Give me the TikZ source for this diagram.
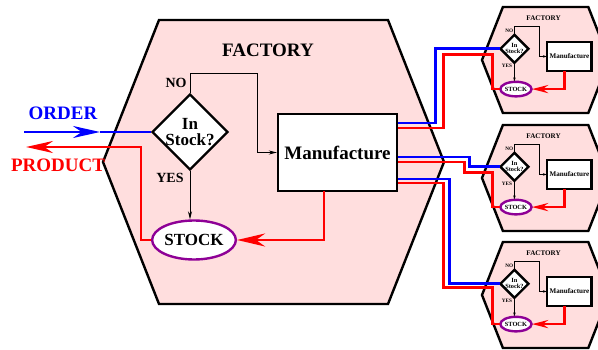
\documentclass[tikz,border=0pt]{standalone}
\usepackage{fontspec}
\setmainfont{Liberation Serif}
\usetikzlibrary{arrows.meta,shapes.geometric}
\definecolor{INK}{HTML}{000000}
\definecolor{BLUE}{HTML}{0000FF}
\definecolor{RED}{HTML}{FF0000}
\definecolor{PURP}{HTML}{8E0096}
\definecolor{PINK}{HTML}{FFDEDE}

\begin{document}
\begin{tikzpicture}[x=1pt,y=-1pt]
\tikzset{hexa/.style={draw=INK,line width=2.4pt,fill=PINK,line join=miter},
 dia/.style={diamond,draw=INK,fill=white,line width=2.4pt,minimum width=76pt,minimum height=76pt,inner sep=0pt},
 mbox/.style={rectangle,draw=INK,fill=white,line width=2.4pt,minimum width=119pt,minimum height=77pt,inner sep=0pt,font=\bfseries\fontsize{19}{19}\selectfont},
 stk/.style={ellipse,draw=PURP,fill=white,line width=2.4pt,minimum width=82pt,minimum height=39pt,inner sep=0pt,font=\bfseries\fontsize{17}{17}\selectfont},
 qtxt/.style={align=center,inner sep=0pt,font=\bfseries\fontsize{17}{16}\selectfont},
 lbl/.style={inner sep=0pt,font=\bfseries\fontsize{19}{19}\selectfont},
 sml/.style={inner sep=0pt,font=\bfseries\fontsize{14}{14}\selectfont},
 flow/.style={INK,line width=0.8pt},
 prod/.style={RED,line width=2.8pt},
 ord/.style={BLUE,line width=2.8pt},
 pics/factory/.style n args={2}{code={
  \draw[hexa] (-114.5,-142) -- (114.5,-142) -- (170.5,0) -- (114.5,142) -- (-114.5,142) -- (-170.5,0) -- cycle;
  \node[lbl] (-title) at (-5.5,-112) {FACTORY};
  \node[dia] (-dia) at (-83.5,-30) {};
  \node[qtxt] (-qtxt) at (-dia) {In\\Stock?};
  \node[mbox] (-mfg) at (64,-9.5) {Manufacture};
  \node[stk] (-stock) at (-79.5,78) {STOCK};
  \node[sml] (-no) at (-97.5,-79) {NO};
  \node[sml] (-yes) at (-103.5,16) {YES};
  \coordinate (-nobend) at (-16.5,-89);
  \coordinate (-drop) at (50.5,29);
  \draw[flow,-{Stealth[#2]}] (-dia.north) |- (-nobend) |- (-mfg.west);
  \draw[flow,-{Stealth[#2]}] (-dia.south) -- (-dia.south |- -stock.north);
  \draw[prod,-{Stealth[#1]}] (-drop) |- (-stock.east);
 }}}
\useasboundingbox (0,0) rectangle (598,350);
\clip (0,0) rectangle (598,350);
\pic (main) at (273.5,162) {factory={length=28pt,width=13pt}{length=8pt,width=4pt}};
\foreach \n/\y in {1/60,2/178,3/295}
  \pic (f\n) [scale=0.373,transform shape] at (545.6,\y) {factory={length=16pt,width=8pt}{length=4pt,width=2.5pt}};
\node[lbl,BLUE] (order) at (63,113) {ORDER};
\node[lbl,RED] (product) at (58,165) {PRODUCT};
\coordinate (ordin) at (24,132);
\coordinate (ordtip) at (100,132);
\coordinate (prodout) at (26,147);
\draw[ord,-{Stealth[length=27pt,width=12pt]}] (ordin) -- (ordtip);
\draw[ord] (ordtip) -- (main-dia.west);
\draw[prod,-{Stealth[length=27pt,width=12pt]}] (main-stock.west) -- ++(-10,0) |- (prodout);
\draw[ord] ([yshift=29.5pt]main-mfg.east) -- ++(37,0) |- (f1-dia.west);
\draw[prod] ([yshift=24.5pt]main-mfg.east) -- ++(45,0) |- ([xshift=-7.5pt,yshift=-6pt]f1-dia.west) |- (f1-stock.west);
\draw[ord] ([yshift=-4.5pt]main-mfg.east) -- ++(71,0) |- (f2-dia.west);
\draw[prod] ([yshift=-9.5pt]main-mfg.east) -- ++(66,0) |- ([xshift=-7.5pt,yshift=-6pt]f2-dia.west) |- (f2-stock.west);
\draw[ord] ([yshift=-26.5pt]main-mfg.east) -- ++(51,0) |- (f3-dia.west);
\draw[prod] ([yshift=-30.5pt]main-mfg.east) -- ++(45,0) |- ([xshift=-7.5pt,yshift=-4pt]f3-dia.west) |- (f3-stock.west);
\end{tikzpicture}
\end{document}
